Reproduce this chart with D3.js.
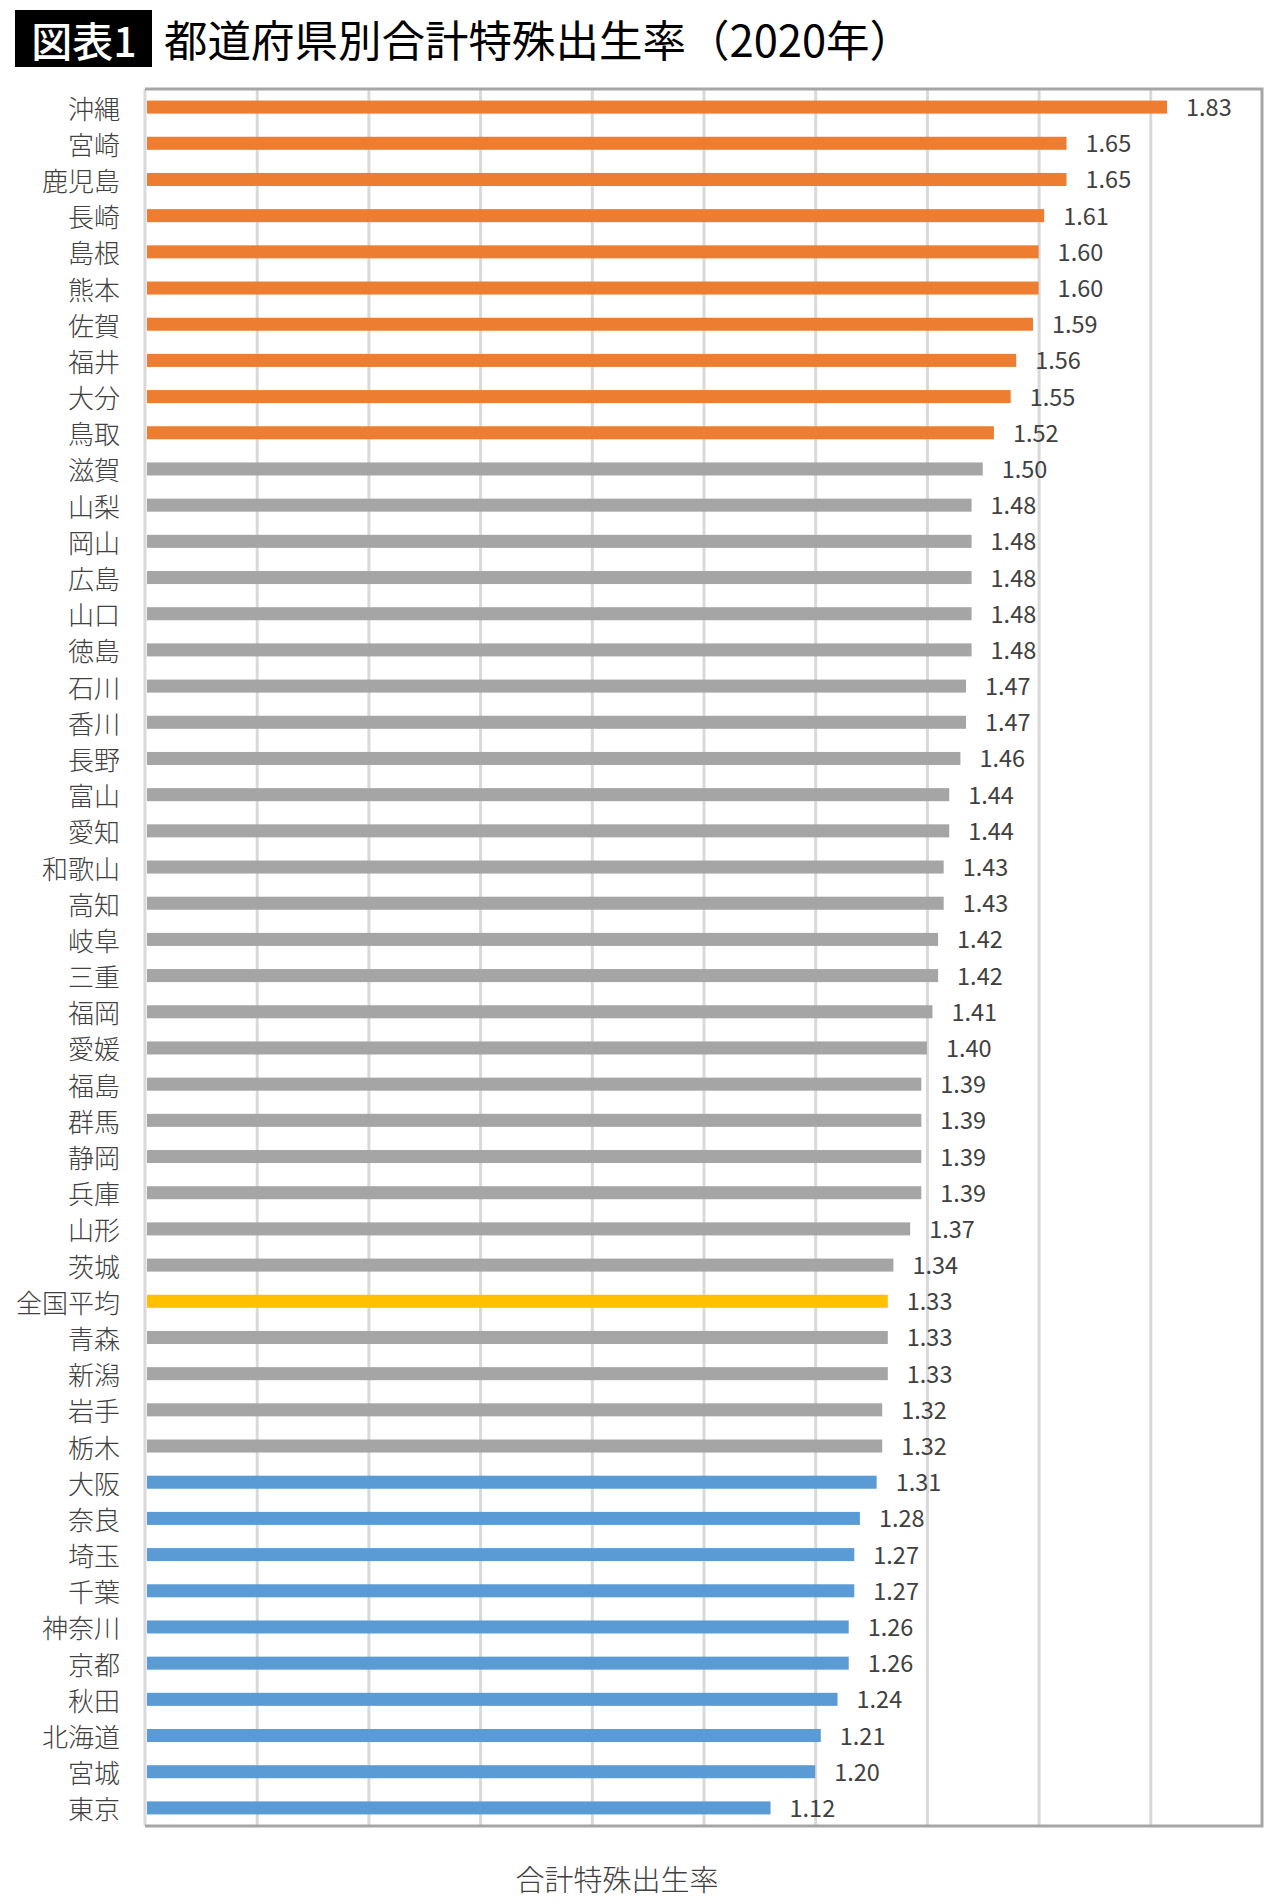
<!DOCTYPE html>
<html>
<head>
<meta charset="utf-8">
<script src="https://cdn.jsdelivr.net/npm/d3@7"></script>
<style>
  body { margin: 0; background: #fff; }
  text { font-family: "Noto Sans CJK JP", "Noto Sans", sans-serif; }
</style>
</head>
<body>
<div id="chart"></div>
<script>
const prefectures = ["沖縄", "宮崎", "鹿児島", "長崎", "島根", "熊本", "佐賀", "福井", "大分", "鳥取",
  "滋賀", "山梨", "岡山", "広島", "山口", "徳島", "石川", "香川", "長野", "富山",
  "愛知", "和歌山", "高知", "岐阜", "三重", "福岡", "愛媛", "福島", "群馬", "静岡",
  "兵庫", "山形", "茨城", "全国平均", "青森", "新潟", "岩手", "栃木", "大阪", "奈良",
  "埼玉", "千葉", "神奈川", "京都", "秋田", "北海道", "宮城", "東京"];
const rates = [1.83, 1.65, 1.65, 1.61, 1.60, 1.60, 1.59, 1.56, 1.55, 1.52,
  1.50, 1.48, 1.48, 1.48, 1.48, 1.48, 1.47, 1.47, 1.46, 1.44,
  1.44, 1.43, 1.43, 1.42, 1.42, 1.41, 1.40, 1.39, 1.39, 1.39,
  1.39, 1.37, 1.34, 1.33, 1.33, 1.33, 1.32, 1.32, 1.31, 1.28,
  1.27, 1.27, 1.26, 1.26, 1.24, 1.21, 1.20, 1.12];
const gridTicks = [0.2, 0.4, 0.6, 0.8, 1.0, 1.2, 1.4, 1.6, 1.8];
const titleTag = "図表1";
const titleText = "都道府県別合計特殊出生率（2020年）";
const axisTitle = "合計特殊出生率";

const width = 1280,
    height = 1904,
    plotLeft = 145,
    plotRight = 1262,
    plotTop = 89,
    plotBottom = 1826;

const topCount = 10, bottomCount = 10, averageName = "全国平均";
function barColor(name, i) {
    if (name === averageName) return "#FFC000";
    if (i < topCount) return "#ED7D31";
    if (i >= prefectures.length - bottomCount) return "#5B9BD5";
    return "#A5A5A5";
}

let svg = d3.select("#chart")
    .append("svg")
    .attr("width", width)
    .attr("height", height);

// title
svg.append("rect")
    .attr("x", 15).attr("y", 10)
    .attr("width", 137).attr("height", 57)
    .attr("fill", "#000");
svg.append("text")
    .attr("x", 84).attr("y", 39)
    .attr("text-anchor", "middle")
    .attr("dominant-baseline", "central")
    .attr("fill", "#fff")
    .style("font-size", "41px")
    .style("font-weight", 500)
    .text(titleTag);
svg.append("text")
    .attr("x", 164).attr("y", 38)
    .attr("dominant-baseline", "central")
    .attr("fill", "#000")
    .style("font-size", "43.5px")
    .text(titleText);

let xScale = d3.scaleLinear().domain([0, 2]).range([plotLeft, plotRight]);
let yScale = d3.scaleBand()
    .domain(prefectures)
    .range([plotTop, plotBottom])
    .paddingInner(0.64)
    .paddingOuter(0.32);

// gridlines
let grid = svg.append("g")
    .attr("transform", `translate(0, ${plotBottom})`)
    .call(d3.axisBottom(xScale)
        .tickValues(gridTicks)
        .tickSize(-(plotBottom - plotTop))
        .tickFormat(""));
grid.select(".domain").remove();
grid.selectAll(".tick line")
    .attr("stroke", "#D9D9D9")
    .attr("stroke-width", 3);

// left edge (light)
svg.append("line")
    .attr("x1", xScale(0)).attr("x2", xScale(0))
    .attr("y1", plotTop).attr("y2", plotBottom)
    .attr("stroke", "#D9D9D9")
    .attr("stroke-width", 3);

// frame top / right / bottom
svg.append("path")
    .attr("d", `M${plotLeft},${plotTop}H${plotRight}V${plotBottom}H${plotLeft}`)
    .attr("fill", "none")
    .attr("stroke", "#A6A6A6")
    .attr("stroke-width", 3);

// bars
svg.selectAll("rect.bar")
    .data(rates)
    .enter()
    .append("rect")
    .attr("class", "bar")
    .attr("x", xScale(0) + 2)
    .attr("y", (d, i) => yScale(prefectures[i]))
    .attr("width", d => xScale(d) - xScale(0) - 2)
    .attr("height", yScale.bandwidth())
    .attr("fill", (d, i) => barColor(prefectures[i], i));

// value labels
svg.selectAll("text.value")
    .data(rates)
    .enter()
    .append("text")
    .attr("class", "value")
    .attr("x", d => xScale(d) + 19)
    .attr("y", (d, i) => yScale(prefectures[i]) + yScale.bandwidth() / 2 - 1)
    .attr("dominant-baseline", "central")
    .attr("fill", "#404040")
    .style("font-size", "23.5px")
    .text(d => d.toFixed(2));

// category labels
svg.selectAll("text.cat")
    .data(prefectures)
    .enter()
    .append("text")
    .attr("class", "cat")
    .attr("x", 120)
    .attr("y", d => yScale(d) + yScale.bandwidth() / 2)
    .attr("text-anchor", "end")
    .attr("dominant-baseline", "central")
    .attr("fill", "#404040")
    .style("font-size", "26px")
    .style("font-weight", 300)
    .text(d => d);

// axis title
svg.append("text")
    .attr("x", 617).attr("y", 1878)
    .attr("text-anchor", "middle")
    .attr("dominant-baseline", "central")
    .attr("fill", "#404040")
    .style("font-size", "29px")
    .style("font-weight", 300)
    .text(axisTitle);
</script>
</body>
</html>
